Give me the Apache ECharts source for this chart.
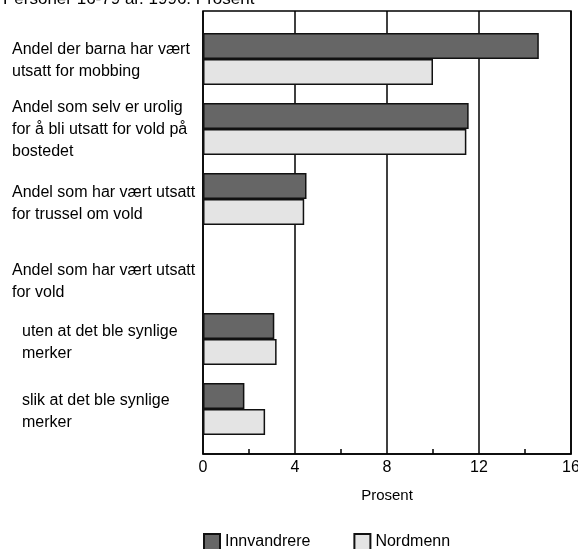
<!DOCTYPE html>
<html>
<head>
<meta charset="utf-8">
<script src="https://cdn.jsdelivr.net/npm/echarts@6/dist/echarts.min.js"></script>
<style>
html,body{margin:0;padding:0;background:#fff;}
#c{width:578px;height:549px;}
</style>
</head>
<body>
<div id="c"></div>
<script>
const titleText = "Personer 16-79 år. 1996. Prosent";
const categories = [
  "Andel der barna har vært\nutsatt for mobbing",
  "Andel som selv er urolig\nfor å bli utsatt for vold på\nbostedet",
  "Andel som har vært utsatt\nfor trussel om vold",
  "Andel som har vært utsatt\nfor vold",
  "uten at det ble synlige\nmerker",
  "slik at det ble synlige\nmerker"
];
const innvandrere = [14.6, 11.55, 4.5, null, 3.1, 1.8];
const nordmenn = [10.0, 11.45, 4.4, null, 3.2, 2.7];
const xTicks = [0, 4, 8, 12, 16];
const xAxisName = "Prosent";
const seriesNames = ["Innvandrere", "Nordmenn"];

const FONT = '"Liberation Sans", Arial, Helvetica, sans-serif';
const labelShift = [2, 1, 5, 13, 4, 3];
const labelIndented = [false, false, false, false, true, true];
const LW = 188, IND = 10;

const rich = {
  t: {fontFamily: FONT, fontSize: 16, lineHeight: 22, color: '#000', width: LW, align: 'left'},
  ti: {fontFamily: FONT, fontSize: 16, lineHeight: 22, color: '#000', width: LW - IND, align: 'left'},
  ind: {fontFamily: FONT, fontSize: 16, lineHeight: 22, width: IND, align: 'left'}
};
labelShift.forEach(s => {
  rich['g' + s] = {fontSize: 2, lineHeight: 2 * s, height: 2 * s, width: LW, align: 'left'};
});

function fmt(value, index) {
  const lines = value.split('\n');
  const out = lines.map(l => labelIndented[index] ? '{ind| }{ti|' + l + '}' : '{t|' + l + '}');
  return '{g' + labelShift[index] + '| }\n' + out.join('\n');
}

const chart = echarts.init(document.getElementById('c'), null, {renderer: 'canvas'});
chart.setOption({
  animation: false,
  backgroundColor: '#fff',
  title: {
    text: titleText, left: -2, top: -14,
    textStyle: {fontFamily: FONT, fontSize: 17, fontWeight: 'normal', color: '#000'}
  },
  legend: {
    data: seriesNames, left: 198, top: 528, icon: 'rect',
    itemWidth: 16, itemHeight: 16, itemGap: 43,
    textStyle: {fontFamily: FONT, fontSize: 16, color: '#000'}
  },
  grid: [
    {left: 203, right: 7, top: 11, bottom: 95, show: true, borderColor: '#000', borderWidth: 1.5, outerBoundsMode: 'none', containLabel: false},
    {left: 203, right: 7, top: 24, bottom: 105, outerBoundsMode: 'none', containLabel: false}
  ],
  xAxis: [
    {
      gridIndex: 0, type: 'value', min: xTicks[0], max: xTicks[xTicks.length - 1], interval: 4,
      name: xAxisName, nameLocation: 'middle', nameGap: 34,
      nameTextStyle: {fontFamily: FONT, fontSize: 15, color: '#000'},
      axisLine: {show: true, lineStyle: {color: '#000', width: 1.5}},
      axisTick: {show: false, inside: true},
      minorTick: {show: true, splitNumber: 2, length: 5, lineStyle: {color: '#000', width: 1.5}},
      splitLine: {show: true, lineStyle: {color: '#000', width: 1.5}},
      axisLabel: {fontFamily: FONT, fontSize: 16, color: '#000', margin: 6}
    },
    {
      gridIndex: 1, type: 'value', min: xTicks[0], max: xTicks[xTicks.length - 1],
      show: false
    }
  ],
  yAxis: [
    {gridIndex: 0, type: 'value', show: false},
    {
      gridIndex: 1, type: 'category', inverse: true,
      data: categories,
      axisLine: {show: false}, axisTick: {show: false},
      axisLabel: {
        margin: 203 - 12 - LW, formatter: fmt, rich: rich,
        fontFamily: FONT, fontSize: 16, lineHeight: 22, color: '#000'
      }
    }
  ],
  series: [
    {
      name: seriesNames[0], type: 'bar', xAxisIndex: 1, yAxisIndex: 1,
      data: innvandrere, barWidth: 26, barGap: '0%',
      itemStyle: {color: '#666666', borderColor: '#111', borderWidth: 1.5}
    },
    {
      name: seriesNames[1], type: 'bar', xAxisIndex: 1, yAxisIndex: 1,
      data: nordmenn, barWidth: 26, barGap: '0%',
      itemStyle: {color: '#e4e4e4', borderColor: '#111', borderWidth: 1.5}
    }
  ]
});
</script>
</body>
</html>
